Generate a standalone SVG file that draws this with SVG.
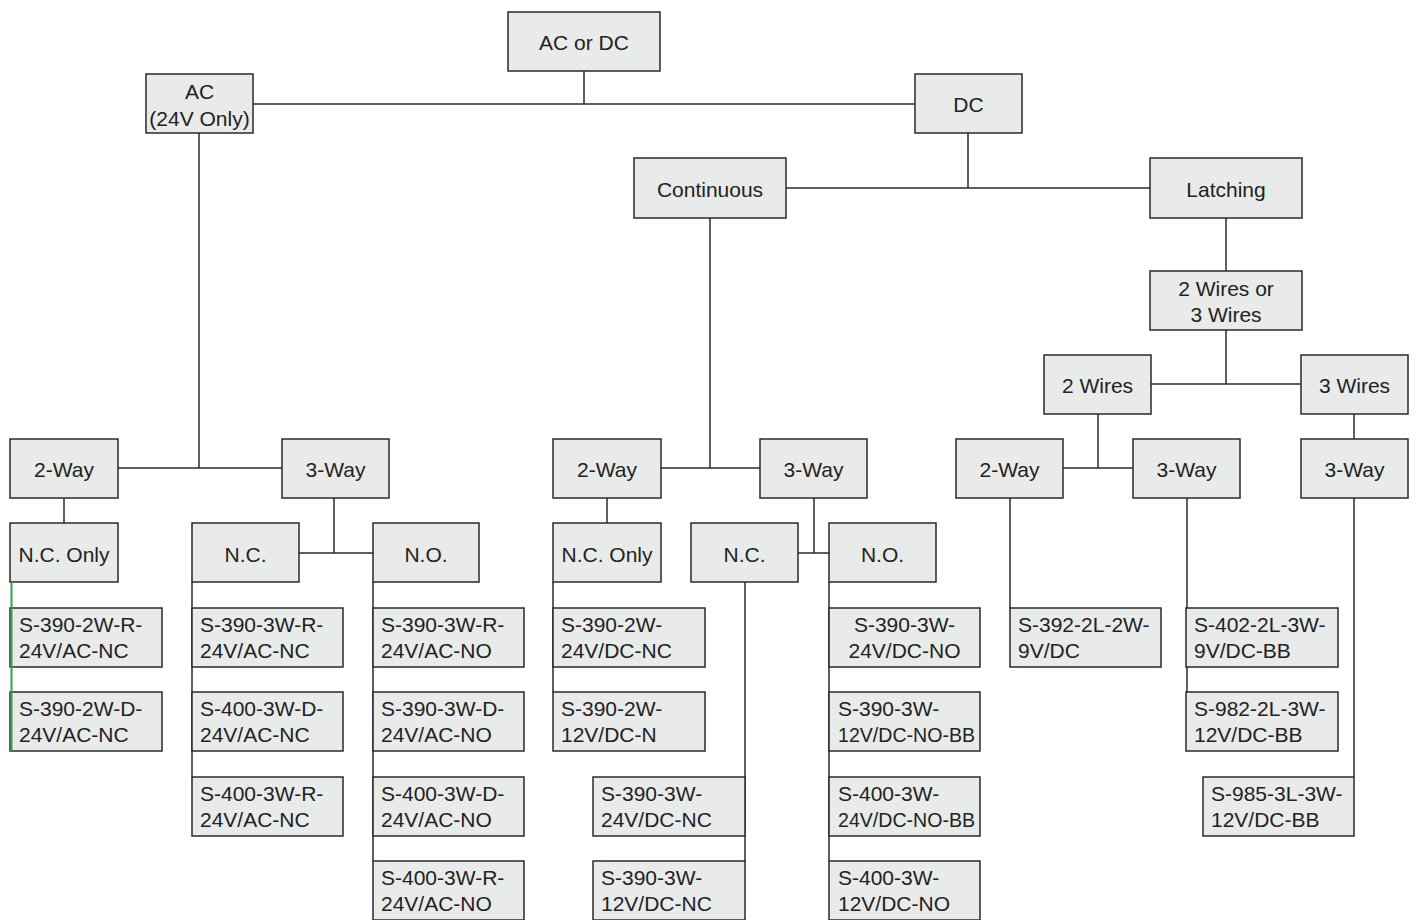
<svg xmlns="http://www.w3.org/2000/svg" width="1416" height="920" viewBox="0 0 1416 920">
<style>
rect.n{fill:#e9eaea;stroke:#2a2a2a;stroke-width:1.5}
text{font-family:"Liberation Sans",Arial,sans-serif;font-size:21px;fill:#222}
text.c{text-anchor:middle}
#connectors path{fill:none;stroke:#2a2a2a;stroke-width:1.5}
#connectors path.g{stroke:#34a04a;stroke-width:2}
</style>
<rect width="1416" height="920" fill="#fff"/>
<g id="connectors">
<path d="M584,71V104M253,104H915"/>
<path d="M199,133V468M118,468H282"/>
<path d="M968,133V188M786,188H1150"/>
<path d="M710,218V468M661,468H760"/>
<path d="M1226,218V271"/>
<path d="M1226,330V384M1151,384H1301"/>
<path d="M1098,414V468M1063,468H1133"/>
<path d="M1354,414V439"/>
<path d="M64,498V523"/>
<path d="M334,498V553M299,553H373"/>
<path d="M192,582V777"/>
<path d="M373,582V861"/>
<path d="M607,498V523"/>
<path d="M814,498V553M798,553H829"/>
<path d="M553,582V692"/>
<path d="M745,582V861"/>
<path d="M829,582V861"/>
<path d="M1010,498V608"/>
<path d="M1187,498V692"/>
<path d="M1354,498V777"/>
</g>
<g id="root"><rect class="n" x="508" y="12" width="152" height="59"/><text class="c" x="584" y="50">AC or DC</text></g>
<g id="ac"><rect class="n" x="146" y="74" width="107" height="59"/><text class="c" x="199.5" y="99">AC</text><text class="c" x="199.5" y="126">(24V Only)</text></g>
<g id="dc"><rect class="n" x="915" y="74" width="107" height="59"/><text class="c" x="968.5" y="112">DC</text></g>
<g id="continuous"><rect class="n" x="634" y="158" width="152" height="60"/><text class="c" x="710" y="197">Continuous</text></g>
<g id="latching"><rect class="n" x="1150" y="158" width="152" height="60"/><text class="c" x="1226" y="197">Latching</text></g>
<g id="wires"><rect class="n" x="1150" y="271" width="152" height="59"/><text class="c" x="1226" y="296">2 Wires or</text><text class="c" x="1226" y="322">3 Wires</text></g>
<g id="w2"><rect class="n" x="1044" y="355" width="107" height="59"/><text class="c" x="1097.5" y="393">2 Wires</text></g>
<g id="w3"><rect class="n" x="1301" y="355" width="107" height="59"/><text class="c" x="1354.5" y="393">3 Wires</text></g>
<g id="ac2way"><rect class="n" x="10" y="439" width="108" height="59"/><text class="c" x="64" y="477">2-Way</text></g>
<g id="ac3way"><rect class="n" x="282" y="439" width="107" height="59"/><text class="c" x="335.5" y="477">3-Way</text></g>
<g id="dc2way"><rect class="n" x="553" y="439" width="108" height="59"/><text class="c" x="607" y="477">2-Way</text></g>
<g id="dc3way"><rect class="n" x="760" y="439" width="107" height="59"/><text class="c" x="813.5" y="477">3-Way</text></g>
<g id="l2way"><rect class="n" x="956" y="439" width="107" height="59"/><text class="c" x="1009.5" y="477">2-Way</text></g>
<g id="l3way"><rect class="n" x="1133" y="439" width="107" height="59"/><text class="c" x="1186.5" y="477">3-Way</text></g>
<g id="l3way3"><rect class="n" x="1301" y="439" width="107" height="59"/><text class="c" x="1354.5" y="477">3-Way</text></g>
<g id="ac_nconly"><rect class="n" x="10" y="523" width="108" height="59"/><text class="c" x="64" y="562">N.C. Only</text></g>
<g id="ac_nc"><rect class="n" x="192" y="523" width="107" height="59"/><text class="c" x="245.5" y="562">N.C.</text></g>
<g id="ac_no"><rect class="n" x="373" y="523" width="106" height="59"/><text class="c" x="426" y="562">N.O.</text></g>
<g id="dc_nconly"><rect class="n" x="553" y="523" width="108" height="59"/><text class="c" x="607" y="562">N.C. Only</text></g>
<g id="dc_nc"><rect class="n" x="691" y="523" width="107" height="59"/><text class="c" x="744.5" y="562">N.C.</text></g>
<g id="dc_no"><rect class="n" x="829" y="523" width="107" height="59"/><text class="c" x="882.5" y="562">N.O.</text></g>
<g id="p1"><rect class="n" x="10" y="608" width="152" height="59"/><text x="19" y="632">S-390-2W-R-</text><text x="19" y="658">24V/AC-NC</text></g>
<g id="p2"><rect class="n" x="10" y="692" width="152" height="59"/><text x="19" y="716">S-390-2W-D-</text><text x="19" y="742">24V/AC-NC</text></g>
<g id="p3"><rect class="n" x="192" y="608" width="151" height="59"/><text x="200" y="632">S-390-3W-R-</text><text x="200" y="658">24V/AC-NC</text></g>
<g id="p4"><rect class="n" x="192" y="692" width="151" height="59"/><text x="200" y="716">S-400-3W-D-</text><text x="200" y="742">24V/AC-NC</text></g>
<g id="p5"><rect class="n" x="192" y="777" width="151" height="59"/><text x="200" y="801">S-400-3W-R-</text><text x="200" y="827">24V/AC-NC</text></g>
<g id="p6"><rect class="n" x="373" y="608" width="151" height="59"/><text x="381" y="632">S-390-3W-R-</text><text x="381" y="658">24V/AC-NO</text></g>
<g id="p7"><rect class="n" x="373" y="692" width="151" height="59"/><text x="381" y="716">S-390-3W-D-</text><text x="381" y="742">24V/AC-NO</text></g>
<g id="p8"><rect class="n" x="373" y="777" width="151" height="59"/><text x="381" y="801">S-400-3W-D-</text><text x="381" y="827">24V/AC-NO</text></g>
<g id="p9"><rect class="n" x="373" y="861" width="151" height="59"/><text x="381" y="885">S-400-3W-R-</text><text x="381" y="911">24V/AC-NO</text></g>
<g id="p10"><rect class="n" x="553" y="608" width="152" height="59"/><text x="561" y="632">S-390-2W-</text><text x="561" y="658">24V/DC-NC</text></g>
<g id="p11"><rect class="n" x="553" y="692" width="152" height="59"/><text x="561" y="716">S-390-2W-</text><text x="561" y="742">12V/DC-N</text></g>
<g id="p12"><rect class="n" x="593" y="777" width="152" height="59"/><text x="601" y="801">S-390-3W-</text><text x="601" y="827">24V/DC-NC</text></g>
<g id="p13"><rect class="n" x="593" y="861" width="152" height="59"/><text x="601" y="885">S-390-3W-</text><text x="601" y="911">12V/DC-NC</text></g>
<g id="p14"><rect class="n" x="829" y="608" width="151" height="59"/><text class="c" x="904.5" y="632">S-390-3W-</text><text class="c" x="904.5" y="658">24V/DC-NO</text></g>
<g id="p15"><rect class="n" x="829" y="692" width="151" height="59"/><text x="838" y="716">S-390-3W-</text><text x="838" y="742" textLength="137" lengthAdjust="spacingAndGlyphs">12V/DC-NO-BB</text></g>
<g id="p16"><rect class="n" x="829" y="777" width="151" height="59"/><text x="838" y="801">S-400-3W-</text><text x="838" y="827" textLength="137" lengthAdjust="spacingAndGlyphs">24V/DC-NO-BB</text></g>
<g id="p17"><rect class="n" x="829" y="861" width="151" height="59"/><text x="838" y="885">S-400-3W-</text><text x="838" y="911">12V/DC-NO</text></g>
<g id="p18"><rect class="n" x="1010" y="608" width="151" height="59"/><text x="1018" y="632">S-392-2L-2W-</text><text x="1018" y="658">9V/DC</text></g>
<g id="p19"><rect class="n" x="1186" y="608" width="152" height="59"/><text x="1194" y="632">S-402-2L-3W-</text><text x="1194" y="658">9V/DC-BB</text></g>
<g id="p20"><rect class="n" x="1186" y="692" width="152" height="59"/><text x="1194" y="716">S-982-2L-3W-</text><text x="1194" y="742">12V/DC-BB</text></g>
<g id="p21"><rect class="n" x="1203" y="777" width="151" height="59"/><text x="1211" y="801">S-985-3L-3W-</text><text x="1211" y="827">12V/DC-BB</text></g>
<g id="green-edge"><path d="M11.5,582V751" fill="none" stroke="#34a04a" stroke-width="2"/></g>
</svg>
